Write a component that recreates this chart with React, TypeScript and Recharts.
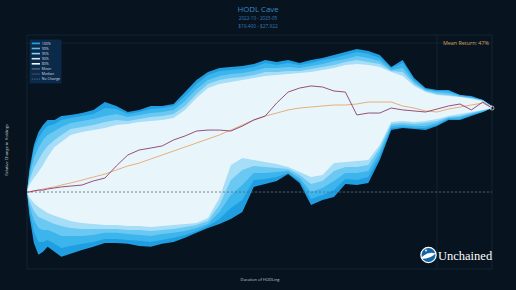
import {
  Area,
  CartesianGrid,
  ComposedChart,
  Line,
  ReferenceDot,
  ReferenceLine,
  XAxis,
  YAxis,
} from "recharts";

// HODL Cave: spread of outcomes by holding duration (multiple of starting holdings)

const DAYS = [1, 2, 4, 6, 8, 10, 13, 16, 20, 25, 30, 35, 40, 45, 50, 55, 60, 65, 70, 75, 80, 85, 90, 95, 100, 105, 110, 115, 120, 125, 130, 135, 140, 145, 150, 155, 160, 165, 170, 175, 180, 185, 190, 195, 200, 204];

const TOP_100 = [1.0, 1.108, 1.244, 1.322, 1.366, 1.398, 1.398, 1.424, 1.431, 1.444, 1.465, 1.52, 1.492, 1.451, 1.465, 1.492, 1.492, 1.506, 1.592, 1.684, 1.748, 1.781, 1.789, 1.797, 1.814, 1.848, 1.831, 1.848, 1.822, 1.848, 1.865, 1.892, 1.918, 1.945, 1.927, 1.892, 1.789, 1.848, 1.7, 1.622, 1.607, 1.607, 1.57, 1.563, 1.534, 1.492];
const TOP_99 = [1.0, 1.092, 1.216, 1.286, 1.328, 1.359, 1.372, 1.398, 1.411, 1.424, 1.438, 1.478, 1.471, 1.438, 1.451, 1.471, 1.478, 1.492, 1.563, 1.653, 1.723, 1.756, 1.764, 1.772, 1.789, 1.822, 1.806, 1.822, 1.806, 1.822, 1.848, 1.865, 1.892, 1.918, 1.9, 1.865, 1.781, 1.822, 1.684, 1.615, 1.6, 1.6, 1.57, 1.556, 1.534, 1.492];
const TOP_95 = [1.0, 1.072, 1.171, 1.227, 1.274, 1.304, 1.328, 1.353, 1.379, 1.391, 1.404, 1.424, 1.438, 1.418, 1.431, 1.444, 1.451, 1.465, 1.527, 1.615, 1.684, 1.715, 1.732, 1.74, 1.756, 1.781, 1.781, 1.789, 1.781, 1.797, 1.814, 1.839, 1.857, 1.883, 1.865, 1.839, 1.764, 1.781, 1.668, 1.607, 1.592, 1.585, 1.563, 1.549, 1.534, 1.485];
const TOP_90 = [1.0, 1.053, 1.118, 1.161, 1.205, 1.239, 1.274, 1.304, 1.341, 1.353, 1.366, 1.385, 1.398, 1.391, 1.404, 1.418, 1.424, 1.438, 1.492, 1.578, 1.653, 1.684, 1.7, 1.708, 1.723, 1.748, 1.748, 1.756, 1.756, 1.772, 1.789, 1.806, 1.831, 1.848, 1.831, 1.814, 1.756, 1.748, 1.653, 1.6, 1.578, 1.57, 1.556, 1.549, 1.527, 1.485];
const TOP_80 = [1.0, 1.033, 1.067, 1.098, 1.134, 1.177, 1.233, 1.262, 1.304, 1.322, 1.334, 1.347, 1.366, 1.372, 1.385, 1.391, 1.398, 1.411, 1.465, 1.549, 1.622, 1.653, 1.668, 1.684, 1.7, 1.715, 1.723, 1.732, 1.74, 1.748, 1.764, 1.781, 1.806, 1.814, 1.806, 1.789, 1.748, 1.715, 1.638, 1.592, 1.57, 1.563, 1.556, 1.541, 1.527, 1.485];

const BOT_80 = [1.0, 0.977, 0.95, 0.933, 0.92, 0.907, 0.895, 0.886, 0.874, 0.866, 0.862, 0.858, 0.858, 0.854, 0.854, 0.85, 0.854, 0.858, 0.862, 0.866, 0.886, 0.973, 1.134, 1.171, 1.161, 1.15, 1.139, 1.123, 1.098, 1.072, 1.082, 1.144, 1.15, 1.155, 1.161, 1.244, 1.385, 1.391, 1.385, 1.391, 1.404, 1.424, 1.438, 1.451, 1.465, 1.478];
const BOT_90 = [1.0, 0.959, 0.916, 0.89, 0.882, 0.874, 0.862, 0.854, 0.846, 0.842, 0.842, 0.842, 0.842, 0.838, 0.838, 0.834, 0.838, 0.842, 0.85, 0.858, 0.874, 0.941, 1.057, 1.108, 1.129, 1.123, 1.118, 1.113, 1.082, 1.038, 1.053, 1.103, 1.123, 1.123, 1.134, 1.227, 1.372, 1.379, 1.372, 1.379, 1.391, 1.418, 1.424, 1.444, 1.465, 1.478];
const BOT_95 = [1.0, 0.941, 0.878, 0.846, 0.838, 0.838, 0.827, 0.815, 0.815, 0.815, 0.819, 0.827, 0.827, 0.823, 0.819, 0.815, 0.823, 0.827, 0.834, 0.846, 0.862, 0.911, 0.986, 1.033, 1.092, 1.092, 1.098, 1.103, 1.067, 1.0, 1.019, 1.053, 1.092, 1.092, 1.103, 1.205, 1.359, 1.366, 1.359, 1.359, 1.379, 1.411, 1.418, 1.438, 1.458, 1.478];
const BOT_99 = [1.0, 0.92, 0.831, 0.793, 0.793, 0.8, 0.786, 0.771, 0.778, 0.786, 0.793, 0.804, 0.804, 0.8, 0.797, 0.793, 0.8, 0.808, 0.819, 0.834, 0.854, 0.882, 0.928, 0.964, 1.057, 1.062, 1.072, 1.092, 1.053, 0.968, 0.986, 1.009, 1.062, 1.057, 1.072, 1.182, 1.347, 1.353, 1.347, 1.347, 1.366, 1.404, 1.404, 1.431, 1.451, 1.478];
const BOT_100 = [1.0, 0.899, 0.789, 0.747, 0.757, 0.775, 0.757, 0.74, 0.75, 0.764, 0.775, 0.789, 0.789, 0.786, 0.778, 0.775, 0.786, 0.793, 0.808, 0.827, 0.846, 0.862, 0.882, 0.911, 1.024, 1.038, 1.053, 1.087, 1.043, 0.941, 0.964, 0.977, 1.038, 1.033, 1.043, 1.161, 1.334, 1.347, 1.341, 1.334, 1.359, 1.398, 1.398, 1.424, 1.451, 1.478];

const MEDIAN = [1.0, 1.0, 1.005, 1.009, 1.009, 1.014, 1.019, 1.024, 1.028, 1.033, 1.053, 1.067, 1.129, 1.188, 1.216, 1.227, 1.239, 1.274, 1.298, 1.328, 1.334, 1.334, 1.328, 1.359, 1.398, 1.424, 1.513, 1.592, 1.622, 1.638, 1.63, 1.6, 1.592, 1.431, 1.444, 1.444, 1.478, 1.465, 1.458, 1.451, 1.471, 1.492, 1.506, 1.465, 1.52, 1.478];
const MEAN = [1.0, 1.002, 1.005, 1.009, 1.014, 1.019, 1.024, 1.033, 1.043, 1.057, 1.072, 1.087, 1.108, 1.129, 1.144, 1.166, 1.188, 1.21, 1.233, 1.256, 1.28, 1.304, 1.334, 1.366, 1.398, 1.424, 1.444, 1.465, 1.478, 1.485, 1.492, 1.499, 1.499, 1.506, 1.52, 1.52, 1.52, 1.492, 1.478, 1.458, 1.451, 1.471, 1.485, 1.499, 1.513, 1.478];

const Y_TICKS = [1, 2];
const X_TICKS = [1, 180];

const BANDS = [
  { key: "b100", label: "100%", color: "#1f9fe2" },
  { key: "b99", label: "99%", color: "#3cb4ec" },
  { key: "b95", label: "95%", color: "#6ac8f2" },
  { key: "b90", label: "90%", color: "#a6def7" },
  { key: "b80", label: "80%", color: "#e8f6fc" },
];

const rows = DAYS.map((day, i) => ({
  day,
  b100: [BOT_100[i], TOP_100[i]],
  b99: [BOT_99[i], TOP_99[i]],
  b95: [BOT_95[i], TOP_95[i]],
  b90: [BOT_90[i], TOP_90[i]],
  b80: [BOT_80[i], TOP_80[i]],
  median: MEDIAN[i],
  mean: MEAN[i],
}));

const FONT = "'Open Sans', 'DejaVu Sans', sans-serif";
const TICK = { fontSize: 4, fill: "#c5ccd3", fontFamily: FONT };

const LEGEND = [
  { label: "100%", color: "#1f9fe2", dash: undefined, w: 1.8 },
  { label: "99%", color: "#5ab9ea", dash: undefined, w: 1.6 },
  { label: "95%", color: "#8fd2f3", dash: undefined, w: 1.6 },
  { label: "90%", color: "#c8e9f8", dash: undefined, w: 1.6 },
  { label: "80%", color: "#f2fafd", dash: undefined, w: 1.6 },
  { label: "Mean", color: "#5f6d79", dash: undefined, w: 1.2 },
  { label: "Median", color: "#4f4262", dash: undefined, w: 1.2 },
  { label: "No Change", color: "#4d6b82", dash: "1.5 1", w: 1 },
];

function Overlay() {
  return (
    <svg
      width={516}
      height={290}
      style={{ position: "absolute", left: 0, top: 0, pointerEvents: "none" }}
    >
      <g fontFamily={FONT} textAnchor="middle">
        <text x={258} y={12.4} fontSize={7.8} fill="#3b89c6">
          HODL Cave
        </text>
        <text x={258} y={19.6} fontSize={4.6} fill="#367db8">
          2022-10 - 2023-05
        </text>
        <text x={258} y={28} fontSize={4.8} fill="#367db8">
          $19,400 - $27,922
        </text>
        <text x={260} y={281} fontSize={4} fill="#c5ccd3">
          Duration of HODLing
        </text>
        <text
          x={7.5}
          y={150}
          fontSize={4}
          fill="#c5ccd3"
          transform="rotate(-90 7.5 150)"
        >
          Relative Change in Holdings
        </text>
      </g>
      <text x={489} y={45} fontSize={5.4} fill="#d4a05a" fontFamily={FONT} textAnchor="end">
        Mean Return: 47%
      </text>

      <rect x={29.5} y={39.5} width={32} height={44} fill="#0b2949" />
      {LEGEND.map((item, i) => {
        const cy = 43.4 + i * 5.1;
        return (
          <g key={item.label}>
            <line
              x1={31.7}
              x2={40}
              y1={cy}
              y2={cy}
              stroke={item.color}
              strokeWidth={item.w}
              strokeDasharray={item.dash}
            />
            <text x={41.7} y={cy + 1.3} fontSize={3.6} fill="#d6dde3" fontFamily={FONT}>
              {item.label}
            </text>
          </g>
        );
      })}

      <circle cx={428.5} cy={255} r={7.6} fill="#1565a6" stroke="#ffffff" strokeWidth={1.3} />
      <path d="M421.5 257.5 Q428 251 435.6 253.5 Q430 259 421.9 258.8 Z" fill="#ffffff" />
      <circle cx={426} cy={250.5} r={0.9} fill="#ffffff" />
      <text x={438} y={259.5} fontSize={12.5} fill="#ffffff" fontFamily="'Liberation Serif', serif">
        Unchained
      </text>
    </svg>
  );
}

export default function App() {
  return (
    <div
      style={{
        position: "fixed",
        left: 0,
        top: 0,
        width: 516,
        height: 290,
        background: "#07131f",
        fontFamily: FONT,
      }}
    >
      <ComposedChart
        width={516}
        height={290}
        data={rows}
        margin={{ top: 35, right: 24, bottom: 21, left: 27 }}
      >
        <CartesianGrid stroke="#17283a" strokeWidth={0.8} />
        <XAxis
          dataKey="day"
          type="number"
          domain={[1, 204]}
          ticks={X_TICKS}
          tickFormatter={(v: number) => (v === 1 ? "1d" : "6mo")}
          height={0}
          axisLine={false}
          tickLine={false}
          tickSize={1}
          tickMargin={1}
          tick={TICK}
          allowDataOverflow
        />
        <YAxis
          type="number"
          scale="log"
          domain={[0.699, 2.076]}
          ticks={Y_TICKS}
          tickFormatter={(v: number) => (v === 1 ? "No Change" : "2x")}
          width={0}
          axisLine={{ stroke: "#c3c9cf", strokeWidth: 1.6 }}
          tickLine={false}
          tickSize={1}
          tickMargin={0.5}
          tick={TICK}
          allowDataOverflow
        />
        {BANDS.map((b) => (
          <Area
            key={b.key}
            dataKey={b.key}
            type="linear"
            stroke="none"
            fill={b.color}
            fillOpacity={1}
            dot={false}
            activeDot={false}
            isAnimationActive={false}
          />
        ))}
        <ReferenceLine y={1} stroke="#56646f" strokeWidth={0.8} strokeDasharray="2 2" />
        <Line
          dataKey="mean"
          type="linear"
          stroke="#e6a66a"
          strokeWidth={0.9}
          dot={false}
          activeDot={false}
          isAnimationActive={false}
        />
        <Line
          dataKey="median"
          type="linear"
          stroke="#8a3c6e"
          strokeWidth={0.9}
          dot={false}
          activeDot={false}
          isAnimationActive={false}
        />
        <ReferenceDot x={204} y={1.478} r={2} fill="none" stroke="#e6e6e6" strokeWidth={0.7} />
      </ComposedChart>
      <Overlay />
    </div>
  );
}
